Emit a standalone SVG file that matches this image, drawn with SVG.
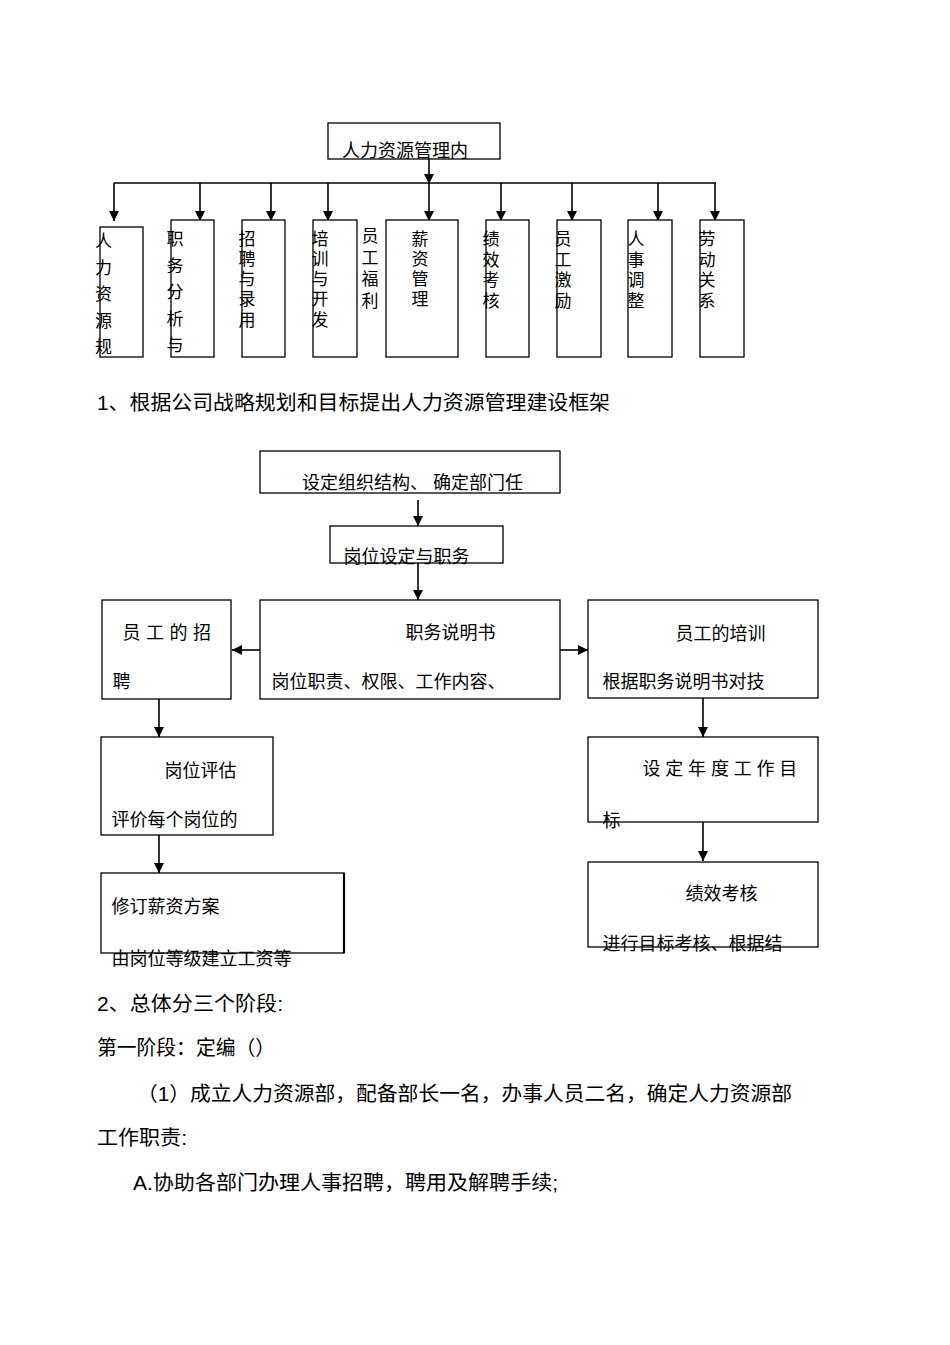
<svg xmlns="http://www.w3.org/2000/svg" width="950" height="1345" viewBox="0 0 950 1345">
<defs>
<style>
text{font-family:"Liberation Sans","Noto Sans CJK SC",sans-serif;fill:#000}
.b{fill:#fff;stroke:#000;stroke-width:1.3}
.v{font-size:17px}
.t{font-size:18px}
.p{font-size:20px}
.c{fill:none;stroke:#000;stroke-width:1.6}
</style>
<marker id="ah" markerUnits="userSpaceOnUse" markerWidth="11" markerHeight="11" refX="10" refY="5" orient="auto">
<path d="M0,0 L10,5 L0,10 z" fill="#000"/>
</marker>
</defs>
<rect width="950" height="1345" fill="#fff"/>

<g id="connectors">
<line class="c" x1="429" y1="159" x2="429" y2="184" marker-end="url(#ah)"/>
<line class="c" x1="114" y1="183" x2="716" y2="183"/>
<line class="c" x1="114" y1="183" x2="114" y2="221" marker-end="url(#ah)"/>
<line class="c" x1="200" y1="183" x2="200" y2="221" marker-end="url(#ah)"/>
<line class="c" x1="271" y1="183" x2="271" y2="221" marker-end="url(#ah)"/>
<line class="c" x1="328" y1="183" x2="328" y2="221" marker-end="url(#ah)"/>
<line class="c" x1="429" y1="183" x2="429" y2="221" marker-end="url(#ah)"/>
<line class="c" x1="501" y1="183" x2="501" y2="221" marker-end="url(#ah)"/>
<line class="c" x1="572" y1="183" x2="572" y2="221" marker-end="url(#ah)"/>
<line class="c" x1="658" y1="183" x2="658" y2="221" marker-end="url(#ah)"/>
<line class="c" x1="715" y1="183" x2="715" y2="221" marker-end="url(#ah)"/>

<line class="c" x1="418" y1="500" x2="418" y2="526" marker-end="url(#ah)"/>
<line class="c" x1="418" y1="563" x2="418" y2="600" marker-end="url(#ah)"/>
<line class="c" x1="260" y1="650" x2="232" y2="650" marker-end="url(#ah)"/>
<line class="c" x1="560" y1="650" x2="588" y2="650" marker-end="url(#ah)"/>
<line class="c" x1="159" y1="699" x2="159" y2="737" marker-end="url(#ah)"/>
<line class="c" x1="159" y1="835" x2="159" y2="873" marker-end="url(#ah)"/>
<line class="c" x1="703" y1="698" x2="703" y2="737" marker-end="url(#ah)"/>
<line class="c" x1="703" y1="822" x2="703" y2="861" marker-end="url(#ah)"/>
</g>

<g id="root">
<rect class="b" x="328" y="123" width="172" height="36"/>
<text class="t" x="342" y="157" font-size="19">人力资源管理内</text>
</g>

<g id="n1">
<rect class="b" x="100" y="227" width="43" height="130"/>
<text class="v" x="95"><tspan x="95" y="247">人</tspan><tspan x="95" y="273.5">力</tspan><tspan x="95" y="300">资</tspan><tspan x="95" y="326.5">源</tspan><tspan x="95" y="353">规</tspan></text>
</g>
<g id="n2">
<rect class="b" x="171" y="220" width="43" height="137"/>
<text class="v"><tspan x="166.5" y="245">职</tspan><tspan x="166.5" y="271.5">务</tspan><tspan x="166.5" y="298">分</tspan><tspan x="166.5" y="324.5">析</tspan><tspan x="166.5" y="351">与</tspan></text>
</g>
<g id="n3">
<rect class="b" x="242" y="220" width="43" height="137"/>
<text class="v"><tspan x="238.5" y="245">招</tspan><tspan x="238.5" y="265">聘</tspan><tspan x="238.5" y="285">与</tspan><tspan x="238.5" y="305">录</tspan><tspan x="238.5" y="326">用</tspan></text>
</g>
<g id="n4">
<rect class="b" x="313" y="220" width="44" height="137"/>
<text class="v"><tspan x="311.5" y="245">培</tspan><tspan x="311.5" y="265">训</tspan><tspan x="311.5" y="285">与</tspan><tspan x="311.5" y="305">开</tspan><tspan x="311.5" y="326">发</tspan></text>
</g>
<g id="n5">
<text class="v"><tspan x="361.5" y="242">员</tspan><tspan x="361.5" y="263.5">工</tspan><tspan x="361.5" y="285">福</tspan><tspan x="361.5" y="306.5">利</tspan></text>
</g>
<g id="n6">
<rect class="b" x="386" y="220" width="72" height="137"/>
<text class="v"><tspan x="411.5" y="245">薪</tspan><tspan x="411.5" y="265">资</tspan><tspan x="411.5" y="285">管</tspan><tspan x="411.5" y="305">理</tspan></text>
</g>
<g id="n7">
<rect class="b" x="486" y="220" width="43" height="137"/>
<text class="v"><tspan x="482.5" y="245">绩</tspan><tspan x="482.5" y="265.5">效</tspan><tspan x="482.5" y="286">考</tspan><tspan x="482.5" y="306.5">核</tspan></text>
</g>
<g id="n8">
<rect class="b" x="557" y="220" width="44" height="137"/>
<text class="v"><tspan x="554.5" y="245">员</tspan><tspan x="554.5" y="265.5">工</tspan><tspan x="554.5" y="286">激</tspan><tspan x="554.5" y="306.5">励</tspan></text>
</g>
<g id="n9">
<rect class="b" x="628" y="220" width="44" height="137"/>
<text class="v"><tspan x="627.5" y="245">人</tspan><tspan x="627.5" y="265.5">事</tspan><tspan x="627.5" y="286">调</tspan><tspan x="627.5" y="306.5">整</tspan></text>
</g>
<g id="n10">
<rect class="b" x="700" y="220" width="44" height="137"/>
<text class="v"><tspan x="698.5" y="245">劳</tspan><tspan x="698.5" y="265.5">动</tspan><tspan x="698.5" y="286">关</tspan><tspan x="698.5" y="306.5">系</tspan></text>
</g>

<g id="heading1">
<text class="p" x="97" y="410" textLength="513" lengthAdjust="spacingAndGlyphs">1、根据公司战略规划和目标提出人力资源管理建设框架</text>
</g>

<g id="org">
<rect class="b" x="260" y="451" width="300" height="42"/>
<text class="t" x="302" y="489">设定组织结构、 确定部门任</text>
</g>
<g id="post">
<rect class="b" x="330" y="526" width="173" height="37"/>
<text class="t" x="343.5" y="563">岗位设定与职务</text>
</g>
<g id="jobdesc">
<rect class="b" x="260" y="600" width="300" height="99"/>
<text class="t" x="405.5" y="639">职务说明书</text>
<text class="t" x="271.5" y="688">岗位职责、权限、工作内容、</text>
</g>
<g id="recruit">
<rect class="b" x="102" y="600" width="129" height="99"/>
<text class="t" x="122.5" y="639" letter-spacing="5.5">员工的招</text>
<text class="t" x="112.5" y="688">聘</text>
</g>
<g id="training">
<rect class="b" x="588" y="600" width="230" height="98"/>
<text class="t" x="675.5" y="640">员工的培训</text>
<text class="t" x="602.5" y="688">根据职务说明书对技</text>
</g>
<g id="eval">
<rect class="b" x="101" y="737" width="172" height="98"/>
<text class="t" x="164.5" y="777">岗位评估</text>
<text class="t" x="111.5" y="826">评价每个岗位的</text>
</g>
<g id="goal">
<rect class="b" x="588" y="737" width="230" height="85"/>
<text class="t" x="642.5" y="775" letter-spacing="4.8">设定年度工作目</text>
<text class="t" x="602.5" y="827">标</text>
</g>
<g id="salary">
<rect class="b" x="101" y="873" width="243" height="80"/>
<line x1="344" y1="873" x2="344" y2="953" stroke="#000" stroke-width="2.2"/>
<text class="t" x="111.5" y="913">修订薪资方案</text>
<text class="t" x="111.5" y="965">由岗位等级建立工资等</text>
</g>
<g id="perf">
<rect class="b" x="588" y="862" width="230" height="85"/>
<text class="t" x="685.5" y="900">绩效考核</text>
<text class="t" x="602.5" y="950">进行目标考核、根据结</text>
</g>

<g id="body">
<text class="p" x="97" y="1011" textLength="186" lengthAdjust="spacingAndGlyphs">2、总体分三个阶段:</text>
<text class="p" x="97" y="1055" textLength="178" lengthAdjust="spacingAndGlyphs">第一阶段：定编（）</text>
<text class="p" x="137" y="1101" textLength="655" lengthAdjust="spacingAndGlyphs">（1）成立人力资源部，配备部长一名，办事人员二名，确定人力资源部</text>
<text class="p" x="97" y="1145" textLength="90" lengthAdjust="spacingAndGlyphs">工作职责:</text>
<text class="p" x="133" y="1190" textLength="425" lengthAdjust="spacingAndGlyphs">A.协助各部门办理人事招聘，聘用及解聘手续;</text>
</g>
</svg>
